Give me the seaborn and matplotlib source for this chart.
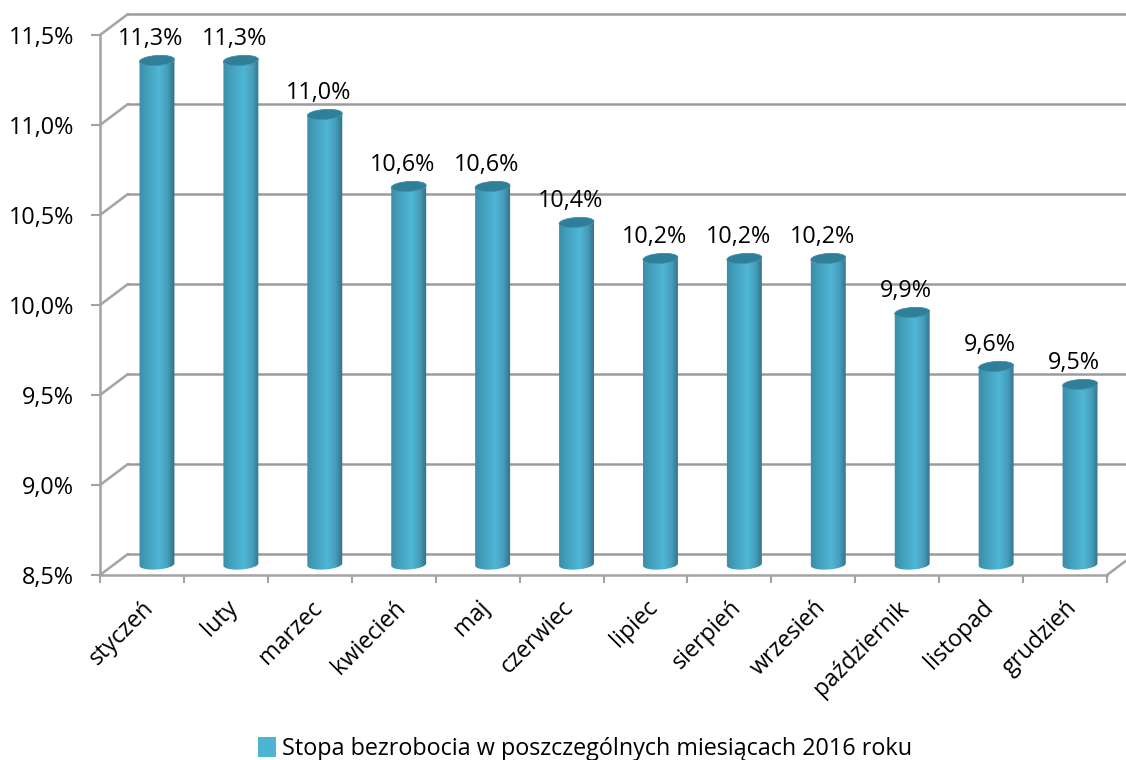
import numpy as np
import matplotlib
matplotlib.use('Agg')
from matplotlib import pyplot as plt
from matplotlib.colors import LinearSegmentedColormap
from matplotlib.patches import Ellipse, Patch, Polygon
import seaborn as sns

months = ['styczeń', 'luty', 'marzec', 'kwiecień', 'maj', 'czerwiec', 'lipiec',
          'sierpień', 'wrzesień', 'październik', 'listopad', 'grudzień']
rates = [11.3, 11.3, 11.0, 10.6, 10.6, 10.4, 10.2, 10.2, 10.2, 9.9, 9.6, 9.5]
y_ticks = [8.5, 9.0, 9.5, 10.0, 10.5, 11.0, 11.5]
legend_label = 'Stopa bezrobocia w poszczególnych miesiącach 2016 roku'

W, H = 1126, 760
GRID = '#a3a3a3'
FS = 16.8
DEPTH_X, DEPTH_Y = 28, 21   # 3d box depth in pixels
BAR_W, CAP_H, TILT = 35, 10, np.radians(4)

sns.set_theme(style='white')
plt.rcParams['font.family'] = ['Open Sans', 'DejaVu Sans']

fig = plt.figure(figsize=(W / 100, H / 100), dpi=100)
ax = fig.add_axes([100 / W, 1 - 575 / H, 1007 / W, 540 / H])
ax.patch.set_alpha(0)

# seaborn sets up the scales, the bars are redrawn as cylinders further down
sns.barplot(x=months, y=rates, ax=ax, color='#4bacc6', width=0.41)
for p in ax.patches:
    p.set_visible(False)
ax.set_ylim(8.5, 11.5)
ax.set_xlim(-0.5, 11.5)
ax.set_xlabel('')
ax.set_ylabel('')

ax.set_yticks(y_ticks)
ax.set_yticklabels([f'{t:.1f}%'.replace('.', ',') for t in y_ticks], fontsize=FS, color='black')
ax.tick_params(axis='y', left=True, length=6.5, width=1.5, color=GRID, pad=12)
ax.set_xticks(range(len(months)))
ax.set_xticklabels(months, rotation=45, ha='right', rotation_mode='anchor', fontsize=FS, color='black')
ax.set_xticks(np.arange(-0.5, 12), minor=True)
ax.tick_params(axis='x', which='major', bottom=False, pad=9)
ax.tick_params(axis='x', which='minor', bottom=True, length=6, width=1.5, color=GRID)
for s in ['top', 'right']:
    ax.spines[s].set_visible(False)
for s in ['left', 'bottom']:
    ax.spines[s].set_color(GRID)
    ax.spines[s].set_linewidth(1.8)

# overlay in pixel coords for the fake 3d parts
ov = fig.add_axes([0, 0, 1, 1])
ov.patch.set_alpha(0)
ov.axis('off')
ov.set_xlim(0, W)
ov.set_ylim(H, 0)


def to_px(x, y):
    dx, dy = ax.transData.transform((x, y))
    return dx, H - dy


for t in y_ticks:
    x0, y0 = to_px(-0.5, t)
    ov.plot([x0, x0 + DEPTH_X], [y0, y0 - DEPTH_Y], color=GRID, lw=1.8, solid_capstyle='round', zorder=1)
    ov.plot([x0 + DEPTH_X, W], [y0 - DEPTH_Y, y0 - DEPTH_Y], color='#9c9c9c', lw=1.8, zorder=1)
xr, yr = to_px(11.5, 8.5)
ov.plot([xr, xr + DEPTH_X], [yr, yr - DEPTH_Y], color=GRID, lw=1.8, zorder=1)

side_cmap = LinearSegmentedColormap.from_list('cyl', [
    (0.0, '#3c8ba5'), (0.22, '#429fbb'), (0.58, '#4fb6d6'), (0.8, '#469fbb'), (1.0, '#306e85')])
grad = np.linspace(0, 1, 128).reshape(1, -1)


def ellipse_pts(cx, cy, t):
    a, b = BAR_W / 2, CAP_H / 2
    px = a * np.cos(t)
    py = b * np.sin(t)
    return cx + px * np.cos(TILT) + py * np.sin(TILT), cy - px * np.sin(TILT) + py * np.cos(TILT)


for i, v in enumerate(rates):
    cx, top = to_px(i, v)
    _, bottom = to_px(i, y_ticks[0])
    cx += DEPTH_X / 2 + 1
    top -= DEPTH_Y / 2
    bottom -= DEPTH_Y / 2

    t = np.linspace(0, np.pi, 40)
    bx, by = ellipse_pts(cx, bottom, t)
    tx, ty = ellipse_pts(cx, top, t[::-1])
    outline = Polygon(np.r_[np.c_[bx, by], np.c_[tx, ty]], closed=True, transform=ov.transData)
    im = ov.imshow(grad, cmap=side_cmap, extent=(cx - BAR_W / 2 - 1, cx + BAR_W / 2 + 1, bottom + 8, top - 8),
                   aspect='auto', interpolation='bilinear', zorder=2)
    im.set_clip_path(outline)
    ov.add_patch(Ellipse((cx, top), BAR_W, CAP_H, angle=-np.degrees(TILT), facecolor='#307f99',
                         edgecolor='#3a8ea9', lw=0.6, zorder=3))
    ov.text(cx - 6, top - 21.5, f'{v:.1f}%'.replace('.', ','), ha='center', va='center',
            fontsize=FS, color='black', zorder=4)

ov.set_xlim(0, W)
ov.set_ylim(H, 0)

fig.legend(handles=[Patch(facecolor='#4db4d4', edgecolor='none', label=legend_label)],
           loc='center', bbox_to_anchor=(585 / W, 1 - 749 / H), frameon=False,
           fontsize=FS, handlelength=0.75, handleheight=0.9, handletextpad=0.25, labelcolor='black')

fig.savefig('out.png', dpi=100)
